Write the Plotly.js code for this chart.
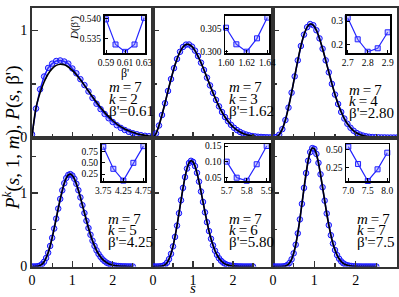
<!DOCTYPE html>
<html>
<head>
<meta charset="utf-8">
<script src="https://cdn.plot.ly/plotly-3.0.1.min.js"></script>
<style>html,body{margin:0;padding:0;background:#fff;}#chart{width:399px;height:297px;}</style>
</head>
<body>
<div id="chart"></div>
<script>
// ---------------- data ----------------
const sK2 = [0,0.1,0.2,0.3,0.4,0.5,0.6,0.7,0.8,0.9,1.0,1.1,1.2,1.3,1.4,1.5,1.6,1.7,1.8,1.9,2.0,2.1,2.2,2.3,2.4,2.5,2.6,2.7,2.8,2.9,3.0];
const dataK2 = [0.03,0.27,0.45,0.57,0.65,0.69,0.715,0.72,0.71,0.69,0.645,0.60,0.545,0.49,0.43,0.37,0.315,0.265,0.22,0.18,0.145,0.115,0.09,0.07,0.053,0.04,0.03,0.022,0.016,0.012,0.009];
const theoryK2 = [0,0.279,0.417,0.519,0.593,0.644,0.674,0.685,0.679,0.659,0.627,0.587,0.539,0.487,0.434,0.380,0.329,0.280,0.235,0.195,0.159,0.128,0.102,0.080,0.062,0.048,0.036,0.027,0.020,0.014,0.010];

const sMid = [0,0.075,0.15,0.225,0.3,0.375,0.45,0.525,0.6,0.675,0.75,0.825,0.9,0.975,1.05,1.125,1.2,1.275,1.35,1.425,1.5,1.575,1.65,1.725,1.8,1.875,1.95,2.025,2.1,2.175,2.25,2.325,2.4,2.475,2.55,2.625,2.7,2.775,2.85,2.925,3.0];
const pK3 = [0,0.037,0.112,0.210,0.320,0.435,0.546,0.648,0.734,0.801,0.846,0.868,0.869,0.849,0.812,0.761,0.699,0.631,0.559,0.487,0.417,0.351,0.291,0.238,0.191,0.152,0.118,0.091,0.069,0.052,0.038,0.028,0.020,0.014,0.010,0.007,0.005,0.003,0.002,0.001,0.001];
const pK4 = [0,0.004,0.026,0.078,0.163,0.279,0.419,0.571,0.721,0.855,0.961,1.031,1.060,1.049,1.002,0.926,0.829,0.721,0.609,0.501,0.401,0.313,0.238,0.177,0.128,0.091,0.063,0.042,0.028,0.018,0.011,0.007,0.004,0.003,0.002,0.001,0.001,0,0,0,0];

const sFine = [0,0.05,0.1,0.15,0.2,0.25,0.3,0.35,0.4,0.45,0.5,0.55,0.6,0.65,0.7,0.75,0.8,0.85,0.9,0.95,1.0,1.05,1.1,1.15,1.2,1.25,1.3,1.35,1.4,1.45,1.5,1.55,1.6,1.65,1.7,1.75,1.8,1.85,1.9,1.95,2.0,2.05,2.1,2.15,2.2,2.25,2.3,2.35,2.4,2.45,2.5];
const pK5 = [0,0,0.001,0.004,0.013,0.032,0.065,0.116,0.187,0.279,0.390,0.516,0.651,0.788,0.919,1.036,1.133,1.204,1.246,1.257,1.238,1.193,1.125,1.038,0.940,0.834,0.727,0.622,0.523,0.432,0.351,0.280,0.220,0.170,0.130,0.097,0.072,0.052,0.037,0.026,0.018,0.013,0.008,0.006,0.004,0.002,0.002,0.001,0.001,0,0];
const pK6 = [0,0,0,0.001,0.003,0.009,0.023,0.052,0.100,0.172,0.273,0.402,0.556,0.725,0.901,1.069,1.217,1.332,1.408,1.438,1.423,1.366,1.274,1.155,1.020,0.878,0.737,0.603,0.482,0.377,0.288,0.215,0.157,0.112,0.079,0.054,0.036,0.024,0.015,0.010,0.006,0.004,0.002,0.001,0.001,0,0,0,0,0,0];
const pK7 = [0,0,0,0,0,0.002,0.007,0.021,0.048,0.098,0.179,0.296,0.451,0.641,0.852,1.069,1.271,1.439,1.556,1.611,1.601,1.531,1.410,1.254,1.078,0.896,0.721,0.563,0.426,0.313,0.224,0.155,0.105,0.069,0.044,0.027,0.017,0.010,0.006,0.003,0.002,0.001,0.001,0,0,0,0,0,0,0,0];

// inset data: beta' vs D(beta')
const insetBetaK2 = [0.59,0.60,0.61,0.62,0.63];
const insetDK2 = [0.5399,0.5334,0.5315,0.5334,0.5403];
const insetBetaK3 = [1.60,1.61,1.62,1.63,1.64];
const insetDK3 = [0.30513,0.30158,0.3000,0.30286,0.30729];
const insetBetaK4 = [2.70,2.75,2.80,2.85,2.90];
const insetDK4 = [0.314,0.2215,0.168,0.183,0.2515];
const insetBetaK5 = [3.75,4.0,4.25,4.5,4.75];
const insetDK5 = [0.86,0.367,0.103,0.50,0.872];
const insetBetaK6 = [5.70,5.75,5.80,5.85,5.90];
const insetDK6 = [0.100,0.0488,0.039,0.0917,0.150];
const insetBetaK7 = [7.0,7.25,7.5,7.75,8.0];
const insetDK7 = [0.548,0.298,0.052,0.221,0.461];

// inset tick labels
const insetXTicks = [[0.59,0.61,0.63],[1.60,1.62,1.64],[2.7,2.8,2.9],[3.75,4.25,4.75],[5.7,5.8,5.9],[7.0,7.5,8.0]];
const insetXText  = [['0.59','0.61','0.63'],['1.60','1.62','1.64'],['2.7','2.8','2.9'],['3.75','4.25','4.75'],['5.7','5.8','5.9'],['7.0','7.5','8.0']];
const insetYTicks = [[0.535,0.540],[0.300,0.305],[0.2,0.3],[0.25,0.50,0.75],[0.05,0.10,0.15],[0.25,0.50]];
const insetYText  = [['0.535','0.540'],['0.300','0.305'],['0.2','0.3'],['0.25','0.50','0.75'],['0.05','0.10','0.15'],['0.25','0.50']];

// panel labels
const mValue = 7;
const kValues = [2,3,4,5,6,7];
const betaLabels = ['0.61','1.62','2.80','4.25','5.80','7.5'];

// ---------------- layout ----------------
const W=399, H=297;
const PX=v=>v/W, PY=v=>1-v/H;
const FONT='"Liberation Serif", "Times New Roman", serif';
const AX='#333';
const colEdges=[[32,153],[153,273],[273,397]];
const rowEdges=[[8,137.5],[137.5,266.5]];
const yRanges=[[0,1.21],[0,1.755]];
const yMinor=[[0.5],[0.5,1.5]];
const insetBoxes=[[104.5,145,15.5,53],[225,269,15.5,53],[346.5,390,15.5,53],[101.5,145,144,181],[225,269,144,181],[346,388.5,144,181]];
const insetXRange=[[0.5884,0.631],[1.599,1.6416],[2.694,2.9115],[3.705,4.79],[5.6915,5.9115],[6.941,8.031]];
const insetYRange=[[0.5312,0.5409],[0.29972,0.30774],[0.1627,0.3236],[0.095,0.92],[0.0382,0.1564],[0.052,0.5866]];
const labelPos=[[107,[87,99,111]],[227,[87,99,111]],[347,[90,101,113]],[106,[219,230,242]],[227,[219,230,242]],[355,[219,230,242]]];

const panelX=[sK2,sMid,sMid,sFine,sFine,sFine];
const panelData=[dataK2,pK3,pK4,pK5,pK6,pK7];
const panelTheory=[theoryK2,pK3,pK4,pK5,pK6,pK7];
const insetX=[insetBetaK2,insetBetaK3,insetBetaK4,insetBetaK5,insetBetaK6,insetBetaK7];
const insetY=[insetDK2,insetDK3,insetDK4,insetDK5,insetDK6,insetDK7];

const layout={width:W,height:H,margin:{l:0,r:0,t:0,b:0},paper_bgcolor:'#fff',plot_bgcolor:'rgba(0,0,0,0)',
  showlegend:false,font:{family:FONT,color:'#000'},annotations:[]};
const traces=[];
const nm=n=>n===1?'':String(n);

for(let i=0;i<6;i++){
  const row=Math.floor(i/3), col=i%3, n=i+1;
  const c=colEdges[col], r=rowEdges[row];
  const xt = row===1 ? (col===2?[0,1,2,3]:[0,1,2]) : [1,2];
  layout['xaxis'+nm(n)]={domain:[PX(c[0]),PX(c[1])],range:[0,3],anchor:'y'+nm(n),
    tickmode:'array',tickvals:xt,ticktext:xt.map(String),
    showticklabels: row===1, ticks:'inside',ticklen:6,tickwidth:1.5,tickcolor:AX,tickangle:0,
    minor:{tickmode:'array',tickvals:[0.5,1.5,2.5],ticks:'inside',ticklen:4,tickwidth:1.2,tickcolor:AX},
    showline:true,mirror:true,linecolor:AX,linewidth:2,showgrid:false,zeroline:false,
    tickfont:{family:FONT,size:14,color:'#000'}};
  layout['yaxis'+nm(n)]={domain:[PY(r[1]),PY(r[0])],range:yRanges[row],anchor:'x'+nm(n),
    tickmode:'array',tickvals: col===0?[0,1]:[1],ticktext: col===0?['0','1']:['1'],
    showticklabels: col===0, ticks:'inside',ticklen:6,tickwidth:1.5,tickcolor:AX,
    minor:{tickmode:'array',tickvals:yMinor[row],ticks:'inside',ticklen:4,tickwidth:1.2,tickcolor:AX},
    showline:true,mirror:true,linecolor:AX,linewidth:2,showgrid:false,zeroline:false,
    tickfont:{family:FONT,size:14,color:'#000'}};
  traces.push({x:panelX[i],y:panelData[i],xaxis:'x'+nm(n),yaxis:'y'+nm(n),mode:'lines+markers',
    line:{color:'#1414ff',width:1.5},
    marker:{symbol:'circle',size:5.5,color:'rgba(90,90,255,0.35)',line:{color:'#1414ff',width:1}}});
  traces.push({x:panelX[i],y:panelTheory[i],xaxis:'x'+nm(n),yaxis:'y'+nm(n),mode:'lines',
    line:{color:'#000',width:1.6,shape:'spline'}});

  // inset
  const m=n+6, b=insetBoxes[i];
  layout['xaxis'+m]={domain:[PX(b[0]),PX(b[1])],range:insetXRange[i],anchor:'y'+m,
    tickmode:'array',tickvals:insetXTicks[i],ticktext:insetXText[i],ticks:'inside',ticklen:3,tickwidth:1,tickcolor:'#000',tickangle:0,
    showline:true,mirror:true,linecolor:'#000',linewidth:1.5,showgrid:false,zeroline:false,
    tickfont:{family:FONT,size:9.5,color:'#000'}};
  layout['yaxis'+m]={domain:[PY(b[3]),PY(b[2])],range:insetYRange[i],anchor:'x'+m,
    tickmode:'array',tickvals:insetYTicks[i],ticktext:insetYText[i],ticks:'inside',ticklen:3,tickwidth:1,tickcolor:'#000',
    showline:true,mirror:true,linecolor:'#000',linewidth:1.5,showgrid:false,zeroline:false,
    tickfont:{family:FONT,size:9.5,color:'#000'}};
  traces.push({x:insetX[i],y:insetY[i],xaxis:'x'+m,yaxis:'y'+m,mode:'lines+markers',cliponaxis:false,
    line:{color:'#2424ff',width:1.2},
    marker:{symbol:'square',size:5,color:'rgba(120,120,255,0.35)',line:{color:'#2020ff',width:1}}});

  // labels
  const lp=labelPos[i];
  const lines=['<i>m</i>\u2009=\u2009'+mValue,'<i>k</i>\u2009=\u2009'+kValues[i],"β'="+betaLabels[i]];
  lines.forEach((t,j)=>layout.annotations.push({text:t,xref:'paper',yref:'paper',x:PX(lp[0]),y:PY(lp[1][j]),
    xanchor:'left',yanchor:'middle',showarrow:false,font:{family:FONT,size:15,color:'#000'}}));
}

layout.annotations.push({text:"<i>P</i><sup><i>k</i></sup>(<i>s</i>, 1, <i>m</i>), <i>P</i>(<i>s</i>, β')",
  xref:'paper',yref:'paper',x:PX(11),y:PY(138),textangle:-90,showarrow:false,xanchor:'center',yanchor:'middle',
  font:{family:FONT,size:19,color:'#000'}});
layout.annotations.push({text:'<i>s</i>',xref:'paper',yref:'paper',x:PX(193),y:PY(288),showarrow:false,
  xanchor:'center',yanchor:'middle',font:{family:FONT,size:15,color:'#000'}});
layout.annotations.push({text:"<i>D</i>(β')",xref:'paper',yref:'paper',x:PX(74),y:PY(28),textangle:-90,showarrow:false,
  xanchor:'center',yanchor:'middle',font:{family:FONT,size:11,color:'#000'}});
layout.annotations.push({text:"β'",xref:'paper',yref:'paper',x:PX(125),y:PY(73),showarrow:false,
  xanchor:'center',yanchor:'middle',font:{family:FONT,size:12,color:'#000'}});

Plotly.newPlot('chart',traces,layout,{staticPlot:true,displayModeBar:false});
</script>
</body>
</html>
